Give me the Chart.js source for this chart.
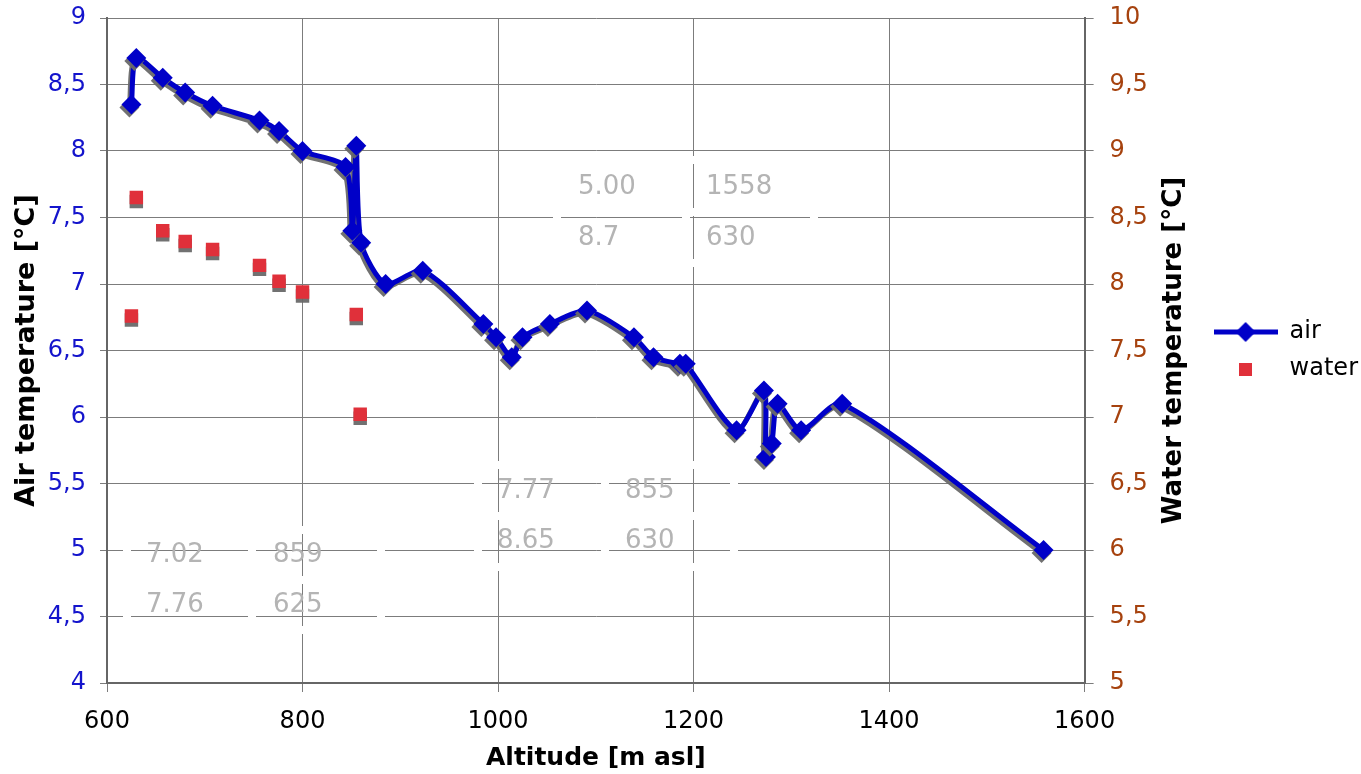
<!DOCTYPE html>
<html>
<head>
<meta charset="utf-8">
<script src="https://cdn.jsdelivr.net/npm/chart.js@4.4.1/dist/chart.umd.min.js"></script>
<style>
  html, body { margin: 0; padding: 0; background: #fff; }
  #wrap { width: 1361px; height: 774px; }
</style>
</head>
<body>
<div id="wrap"><canvas id="chart" width="1361" height="774"></canvas></div>
<script>
// altitude [m asl] of the air readings
const airAltitude = [625, 630, 657, 680, 708, 756, 776, 800, 844, 851, 855, 860, 885, 923,
  985, 998, 1014, 1025, 1053, 1091, 1139, 1159, 1186, 1192, 1244, 1272, 1274, 1280, 1286,
  1310, 1352, 1558];
const airTemp = [8.35, 8.70, 8.55, 8.44, 8.34, 8.23, 8.15, 8.00, 7.88, 7.40, 8.04, 7.31, 7.00, 7.10,
  6.70, 6.60, 6.45, 6.60, 6.70, 6.80, 6.60, 6.45, 6.40, 6.40, 5.90, 6.20, 5.70, 5.80, 6.10,
  5.90, 6.10, 5.00];

const waterAltitude = [625, 630, 657, 680, 708, 756, 776, 800, 855, 859];
const waterTemp = [7.76, 8.65, 8.40, 8.32, 8.26, 8.14, 8.02, 7.94, 7.77, 7.02];

const xTicks = [600, 800, 1000, 1200, 1400, 1600];

// the little min/max table that sits behind the plot
const noteRows = [
  ["5.00", "1558"], ["8.7", "630"],
  ["7.77", "855"], ["8.65", "630"],
  ["7.02", "859"], ["7.76", "625"]
];

// layout of that table (pixels)
const noteBlocks = [
  { rows: [0, 1], textX: [578, 706], textY: [187, 238], colEdges: [557, 686, 814], rowEdges: [160, 212, 263] },
  { rows: [2, 3], textX: [497, 625], textY: [491, 541], colEdges: [478, 605, 734], rowEdges: [465, 516, 567] },
  { rows: [4, 5], textX: [146, 273], textY: [555, 605], colEdges: [127, 252, 381], rowEdges: [530, 580, 630] }
];

const FONT = "DejaVu Sans";
const AIR_BLUE = "#0000c8";
const WATER_RED = "#e0303a";
const RIGHT_TITLE = "Water temperature [°C]";

function commaNum(v) {
  return String(v).replace(".", ",");
}

function makeIcon(kind) {
  const c = document.createElement("canvas");
  if (kind === "air") {
    c.width = 64; c.height = 22;
    const g = c.getContext("2d");
    g.strokeStyle = AIR_BLUE; g.lineWidth = 5;
    g.beginPath(); g.moveTo(0, 11); g.lineTo(64, 11); g.stroke();
    g.fillStyle = AIR_BLUE;
    g.beginPath(); g.moveTo(32, 1); g.lineTo(42, 11); g.lineTo(32, 21); g.lineTo(22, 11); g.closePath(); g.fill();
  } else {
    c.width = 13; c.height = 13;
    const g = c.getContext("2d");
    g.fillStyle = WATER_RED; g.fillRect(0, 0, 13, 13);
  }
  return c;
}
const legendIcons = [makeIcon("air"), makeIcon("water")];

// grey drop shadow under the marks, like the original spreadsheet chart
const shadowPlugin = {
  id: "markShadow",
  beforeDatasetDraw(chart, args) {
    const ds = chart.data.datasets[args.index];
    const ctx = chart.ctx;
    ctx.save();
    ctx.shadowColor = "rgba(105,105,105,0.95)";
    ctx.shadowBlur = 0;
    ctx.shadowOffsetX = ds.shadowX || 0;
    ctx.shadowOffsetY = ds.shadowY || 0;
  },
  afterDatasetDraw(chart) {
    chart.ctx.restore();
  }
};

const notesPlugin = {
  id: "notes",
  beforeDatasetsDraw(chart) {
    const ctx = chart.ctx;
    const { x, y } = chart.scales;
    ctx.save();
    // white breaks where the table borders cross the grid
    ctx.fillStyle = "#fff";
    for (const b of noteBlocks) {
      const top = b.rowEdges[0], bot = b.rowEdges[b.rowEdges.length - 1];
      const left = b.colEdges[0], right = b.colEdges[b.colEdges.length - 1];
      for (let v = 4; v <= 9; v += 0.5) {
        const py = y.getPixelForValue(v);
        if (py < top || py > bot) continue;
        for (const cx of b.colEdges) ctx.fillRect(cx - 4, py - 2, 8, 4);
      }
      for (const t of xTicks) {
        const px = x.getPixelForValue(t);
        if (px < left || px > right) continue;
        for (const ry of b.rowEdges) ctx.fillRect(px - 2, ry - 4, 4, 8);
      }
    }
    ctx.fillStyle = "#b4b4b4";
    ctx.font = "26px '" + FONT + "'";
    ctx.textBaseline = "middle";
    ctx.textAlign = "left";
    for (const b of noteBlocks) {
      b.rows.forEach((r, i) => {
        ctx.fillText(noteRows[r][0], b.textX[0], b.textY[i]);
        ctx.fillText(noteRows[r][1], b.textX[1], b.textY[i]);
      });
    }
    ctx.restore();
  },
  afterDraw(chart) {
    // right axis title reads bottom-to-top, like the left one
    const ctx = chart.ctx;
    const s = chart.scales.y2;
    const area = chart.chartArea;
    ctx.save();
    ctx.translate(s.right - 26, (area.top + area.bottom) / 2);
    ctx.rotate(-Math.PI / 2);
    ctx.fillStyle = "#000";
    ctx.font = "bold 26px '" + FONT + "'";
    ctx.textAlign = "center";
    ctx.textBaseline = "middle";
    ctx.fillText(RIGHT_TITLE, 0, 0);
    ctx.restore();
  }
};

const airPoints = airAltitude.map((a, i) => ({ x: a, y: airTemp[i] }));
const waterPoints = waterAltitude.map((a, i) => ({ x: a, y: waterTemp[i] }));

const GRID = "#7c7c7c";
const AXIS = "#666";

function trimVertPadding(s) {
  s.paddingTop = 4;
  s.paddingBottom = 4;
}

new Chart(document.getElementById("chart"), {
  type: "scatter",
  data: {
    datasets: [
      {
        label: "air",
        data: airPoints,
        yAxisID: "y",
        showLine: true,
        borderColor: AIR_BLUE,
        backgroundColor: AIR_BLUE,
        borderWidth: 5,
        tension: 0.25,
        pointStyle: "rectRot",
        pointRadius: 10,
        pointBorderWidth: 0,
        shadowX: -2,
        shadowY: 3
      },
      {
        label: "water",
        data: waterPoints,
        yAxisID: "y2",
        showLine: false,
        backgroundColor: WATER_RED,
        borderColor: WATER_RED,
        pointStyle: "rect",
        pointRadius: 9.5,
        pointBorderWidth: 0,
        shadowX: 0,
        shadowY: 4
      }
    ]
  },
  options: {
    responsive: false,
    animation: false,
    layout: { padding: { top: 18, left: 0, right: -7, bottom: 0 } },
    plugins: {
      tooltip: { enabled: false },
      legend: {
        position: "right",
        fullSize: false,
        labels: {
          usePointStyle: true,
          pointStyleWidth: 64,
          padding: 13,
          color: "#000",
          font: { family: FONT, size: 24 },
          generateLabels(chart) {
            return chart.data.datasets.map((ds, i) => ({
              text: ds.label,
              pointStyle: legendIcons[i],
              fillStyle: ds.backgroundColor,
              strokeStyle: ds.borderColor,
              lineWidth: 0,
              hidden: false,
              datasetIndex: i
            }));
          }
        }
      }
    },
    scales: {
      x: {
        type: "linear",
        min: 600,
        max: 1600,
        afterBuildTicks(s) { s.ticks = xTicks.map(v => ({ value: v })); },
        afterFit(s) { s.height = 91; },
        grid: { color: GRID, lineWidth: 1, tickLength: 9 },
        border: { color: AXIS, width: 2 },
        ticks: { color: "#000", padding: 15, font: { family: FONT, size: 24 }, maxRotation: 0, callback: v => String(v) },
        title: {
          display: true, text: "Altitude [m asl]", color: "#000",
          font: { family: FONT, size: 25, weight: "bold" },
          padding: { top: 4, bottom: 1 }
        }
      },
      y: {
        position: "left",
        min: 4,
        max: 9,
        ticks: { stepSize: 0.5, color: "#1414cc", padding: 14, font: { family: FONT, size: 24 }, callback: commaNum },
        afterFit(s) { s.width = 107; trimVertPadding(s); },
        grid: { color: GRID, lineWidth: 1, tickLength: 7 },
        border: { color: AXIS, width: 2 },
        title: {
          display: true, text: "Air temperature [°C]", color: "#000",
          font: { family: FONT, size: 27, weight: "bold" },
          padding: { top: 11, bottom: 4 }
        }
      },
      y2: {
        position: "right",
        min: 5,
        max: 10,
        ticks: { stepSize: 0.5, color: "#a6420e", padding: 16, font: { family: FONT, size: 24 }, callback: commaNum },
        afterFit(s) { s.width = 116; trimVertPadding(s); },
        grid: { drawOnChartArea: false, color: GRID, lineWidth: 1, tickLength: 9 },
        border: { color: AXIS, width: 2 },
        title: { display: false }
      }
    }
  },
  plugins: [shadowPlugin, notesPlugin]
});
</script>
</body>
</html>
